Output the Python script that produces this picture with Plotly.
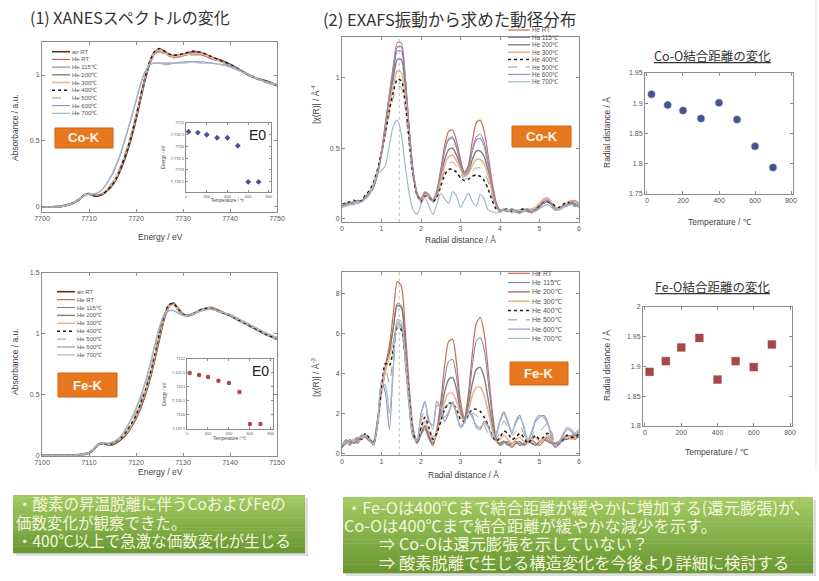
import plotly.graph_objects as go

W, H = 819, 581

# ---------------- data ----------------
series_xanes = ["air RT", "He RT", "He 115℃", "He 200℃", "He 300℃", "He 400℃", "He 500℃", "He 600℃", "He 700℃"]
series_exafs = ["He RT", "He 115℃", "He 200℃", "He 300℃", "He 400℃", "He 500℃", "He 600℃", "He 700℃"]

energy_co = [7700, 7702, 7704, 7706, 7708, 7709, 7710, 7711, 7712, 7713, 7714, 7715, 7716, 7717, 7718, 7719,
             7720, 7721, 7722, 7723, 7724, 7725, 7726, 7727, 7728, 7730, 7732, 7734, 7736, 7738, 7740, 7742,
             7744, 7746, 7748, 7750]
co_xanes_air = [0.00, 0.00, 0.005, 0.02, 0.06, 0.09, 0.10, 0.085, 0.085, 0.10, 0.13, 0.17, 0.23, 0.31, 0.41, 0.53, 0.67, 0.83, 0.98, 1.10, 1.17, 1.19, 1.18, 1.15, 1.14, 1.15, 1.17, 1.16, 1.13, 1.11, 1.08, 1.04, 1.00, 0.97, 0.95, 0.92]
co_xanes_rt = [0.00, 0.00, 0.005, 0.02, 0.06, 0.09, 0.10, 0.09, 0.09, 0.105, 0.135, 0.18, 0.24, 0.32, 0.42, 0.54, 0.68, 0.84, 0.99, 1.11, 1.18, 1.20, 1.18, 1.16, 1.15, 1.16, 1.18, 1.17, 1.14, 1.11, 1.08, 1.04, 1.00, 0.97, 0.94, 0.92]
co_xanes_115 = [0.00, 0.00, 0.005, 0.02, 0.06, 0.09, 0.10, 0.085, 0.09, 0.10, 0.13, 0.17, 0.23, 0.31, 0.41, 0.53, 0.66, 0.82, 0.97, 1.09, 1.16, 1.18, 1.17, 1.15, 1.14, 1.15, 1.16, 1.15, 1.13, 1.10, 1.07, 1.04, 1.00, 0.97, 0.94, 0.92]
co_xanes_200 = [0.00, 0.00, 0.005, 0.02, 0.06, 0.09, 0.10, 0.09, 0.09, 0.10, 0.13, 0.17, 0.23, 0.31, 0.42, 0.54, 0.68, 0.83, 0.98, 1.10, 1.17, 1.19, 1.17, 1.15, 1.14, 1.15, 1.17, 1.16, 1.13, 1.11, 1.08, 1.04, 1.00, 0.97, 0.95, 0.92]
co_xanes_300 = [0.00, 0.00, 0.005, 0.02, 0.06, 0.09, 0.10, 0.09, 0.09, 0.105, 0.14, 0.18, 0.24, 0.33, 0.43, 0.55, 0.69, 0.84, 0.99, 1.10, 1.17, 1.19, 1.17, 1.15, 1.14, 1.15, 1.16, 1.16, 1.13, 1.10, 1.07, 1.04, 1.00, 0.97, 0.94, 0.92]
co_xanes_400 = [0.00, 0.00, 0.005, 0.02, 0.06, 0.09, 0.10, 0.09, 0.09, 0.10, 0.13, 0.17, 0.23, 0.32, 0.42, 0.54, 0.68, 0.84, 0.99, 1.11, 1.18, 1.20, 1.18, 1.16, 1.15, 1.16, 1.18, 1.17, 1.14, 1.11, 1.08, 1.04, 1.00, 0.97, 0.95, 0.92]
co_xanes_500 = [0.00, 0.00, 0.005, 0.02, 0.06, 0.09, 0.10, 0.09, 0.09, 0.11, 0.14, 0.19, 0.25, 0.34, 0.44, 0.56, 0.70, 0.85, 0.99, 1.10, 1.16, 1.17, 1.16, 1.14, 1.13, 1.14, 1.15, 1.15, 1.12, 1.10, 1.07, 1.04, 1.00, 0.97, 0.94, 0.92]
co_xanes_600 = [0.00, 0.00, 0.005, 0.02, 0.06, 0.085, 0.10, 0.10, 0.11, 0.14, 0.19, 0.25, 0.33, 0.43, 0.55, 0.67, 0.80, 0.93, 1.03, 1.08, 1.09, 1.09, 1.09, 1.09, 1.09, 1.10, 1.10, 1.10, 1.09, 1.08, 1.07, 1.04, 1.00, 0.97, 0.95, 0.93]
co_xanes_700 = [0.00, 0.00, 0.005, 0.02, 0.06, 0.085, 0.10, 0.10, 0.11, 0.14, 0.19, 0.26, 0.34, 0.44, 0.56, 0.68, 0.81, 0.94, 1.03, 1.08, 1.09, 1.09, 1.08, 1.08, 1.09, 1.09, 1.10, 1.09, 1.09, 1.08, 1.06, 1.03, 1.00, 0.97, 0.94, 0.93]

energy_fe = [7100, 7102, 7104, 7106, 7108, 7110, 7111, 7112, 7113, 7114, 7115, 7116, 7117, 7118, 7119, 7120,
             7121, 7122, 7123, 7124, 7125, 7126, 7127, 7128, 7129, 7130, 7131, 7132, 7134, 7136, 7138, 7140,
             7142, 7144, 7146, 7148, 7150]
fe_xanes_air = [0.0, 0.0, 0.0, 0.0, 0.005, 0.02, 0.05, 0.09, 0.10, 0.09, 0.09, 0.11, 0.14, 0.18, 0.24, 0.31, 0.40, 0.51, 0.64, 0.80, 0.97, 1.13, 1.23, 1.25, 1.20, 1.16, 1.15, 1.16, 1.20, 1.21, 1.18, 1.15, 1.11, 1.07, 1.03, 0.99, 0.96]
fe_xanes_rt = [0.0, 0.0, 0.0, 0.0, 0.005, 0.02, 0.05, 0.09, 0.10, 0.09, 0.09, 0.11, 0.14, 0.18, 0.23, 0.30, 0.39, 0.50, 0.63, 0.79, 0.96, 1.12, 1.22, 1.25, 1.21, 1.17, 1.15, 1.16, 1.20, 1.22, 1.19, 1.15, 1.11, 1.07, 1.03, 0.99, 0.95]
fe_xanes_115 = [0.0, 0.0, 0.0, 0.0, 0.005, 0.02, 0.05, 0.09, 0.10, 0.09, 0.09, 0.11, 0.14, 0.18, 0.24, 0.31, 0.40, 0.51, 0.64, 0.80, 0.97, 1.13, 1.23, 1.25, 1.20, 1.16, 1.15, 1.16, 1.20, 1.21, 1.18, 1.15, 1.11, 1.07, 1.03, 0.99, 0.96]
fe_xanes_200 = [0.0, 0.0, 0.0, 0.0, 0.005, 0.02, 0.05, 0.09, 0.10, 0.09, 0.09, 0.11, 0.14, 0.19, 0.25, 0.32, 0.41, 0.52, 0.65, 0.81, 0.98, 1.14, 1.23, 1.25, 1.20, 1.16, 1.15, 1.16, 1.20, 1.21, 1.18, 1.15, 1.11, 1.07, 1.03, 0.99, 0.96]
fe_xanes_300 = [0.0, 0.0, 0.0, 0.0, 0.005, 0.02, 0.05, 0.09, 0.10, 0.09, 0.10, 0.12, 0.15, 0.19, 0.25, 0.32, 0.42, 0.53, 0.66, 0.82, 0.99, 1.14, 1.23, 1.24, 1.20, 1.16, 1.15, 1.16, 1.20, 1.21, 1.18, 1.15, 1.11, 1.07, 1.03, 0.99, 0.96]
fe_xanes_400 = [0.0, 0.0, 0.0, 0.0, 0.005, 0.02, 0.05, 0.09, 0.10, 0.09, 0.10, 0.12, 0.15, 0.20, 0.26, 0.33, 0.43, 0.54, 0.67, 0.83, 1.00, 1.15, 1.24, 1.25, 1.20, 1.16, 1.15, 1.16, 1.20, 1.21, 1.18, 1.15, 1.11, 1.07, 1.03, 0.99, 0.96]
fe_xanes_500 = [0.0, 0.0, 0.0, 0.0, 0.005, 0.02, 0.05, 0.09, 0.10, 0.10, 0.10, 0.12, 0.16, 0.21, 0.27, 0.35, 0.45, 0.56, 0.69, 0.85, 1.01, 1.15, 1.22, 1.23, 1.19, 1.16, 1.15, 1.16, 1.19, 1.21, 1.18, 1.15, 1.11, 1.08, 1.04, 1.00, 0.96]
fe_xanes_600 = [0.0, 0.0, 0.0, 0.0, 0.005, 0.02, 0.05, 0.09, 0.10, 0.10, 0.11, 0.13, 0.17, 0.23, 0.30, 0.38, 0.48, 0.60, 0.74, 0.90, 1.05, 1.15, 1.19, 1.19, 1.17, 1.15, 1.15, 1.16, 1.19, 1.20, 1.18, 1.16, 1.12, 1.08, 1.04, 1.00, 0.97]
fe_xanes_700 = [0.0, 0.0, 0.0, 0.0, 0.005, 0.02, 0.05, 0.09, 0.10, 0.10, 0.11, 0.13, 0.17, 0.23, 0.30, 0.39, 0.49, 0.61, 0.75, 0.91, 1.06, 1.16, 1.19, 1.19, 1.17, 1.15, 1.15, 1.16, 1.19, 1.20, 1.18, 1.16, 1.12, 1.08, 1.04, 1.00, 0.97]

radial_r = [round(i * 0.1, 1) for i in range(61)]  # 0.0 ... 6.0 Å grid

co_exafs_rt = [0.10, 0.11, 0.10, 0.12, 0.13, 0.12, 0.16, 0.18, 0.22, 0.32,
               0.48, 0.68, 0.88, 1.06, 1.22, 1.22, 1.00, 0.64, 0.34, 0.18,
               0.14, 0.19, 0.17, 0.13, 0.20, 0.35, 0.52, 0.62, 0.63, 0.55,
               0.42, 0.33, 0.38, 0.55, 0.68, 0.70, 0.62, 0.45, 0.26, 0.12,
               0.06, 0.07, 0.05, 0.06, 0.05, 0.04, 0.06, 0.05, 0.04, 0.06,
               0.09, 0.12, 0.13, 0.10, 0.06, 0.07, 0.10, 0.09, 0.11, 0.12, 0.10]
co_exafs_115 = [0.09, 0.10, 0.11, 0.11, 0.12, 0.13, 0.15, 0.19, 0.23, 0.31,
                0.46, 0.66, 0.86, 1.04, 1.19, 1.19, 0.98, 0.63, 0.33, 0.17,
                0.13, 0.18, 0.16, 0.12, 0.18, 0.32, 0.48, 0.57, 0.58, 0.51,
                0.40, 0.32, 0.36, 0.49, 0.58, 0.60, 0.54, 0.40, 0.23, 0.11,
                0.05, 0.06, 0.06, 0.05, 0.06, 0.05, 0.05, 0.06, 0.05, 0.07,
                0.10, 0.13, 0.14, 0.11, 0.07, 0.06, 0.09, 0.10, 0.12, 0.11, 0.09]
co_exafs_200 = [0.08, 0.10, 0.10, 0.12, 0.11, 0.13, 0.15, 0.18, 0.24, 0.33,
                0.47, 0.65, 0.84, 1.00, 1.13, 1.13, 0.94, 0.62, 0.33, 0.18,
                0.13, 0.17, 0.16, 0.13, 0.17, 0.29, 0.42, 0.49, 0.50, 0.45,
                0.37, 0.30, 0.33, 0.42, 0.48, 0.48, 0.44, 0.34, 0.21, 0.10,
                0.06, 0.06, 0.05, 0.07, 0.05, 0.04, 0.06, 0.07, 0.05, 0.06,
                0.08, 0.11, 0.12, 0.10, 0.08, 0.07, 0.08, 0.10, 0.11, 0.10, 0.09]
co_exafs_300 = [0.09, 0.09, 0.11, 0.12, 0.12, 0.12, 0.16, 0.19, 0.25, 0.34,
                0.47, 0.63, 0.80, 0.95, 1.05, 1.04, 0.87, 0.58, 0.31, 0.17,
                0.12, 0.17, 0.16, 0.12, 0.16, 0.27, 0.38, 0.44, 0.45, 0.41,
                0.35, 0.30, 0.32, 0.38, 0.42, 0.42, 0.39, 0.31, 0.19, 0.09,
                0.05, 0.07, 0.06, 0.05, 0.06, 0.06, 0.05, 0.06, 0.07, 0.08,
                0.11, 0.14, 0.15, 0.12, 0.08, 0.06, 0.08, 0.11, 0.13, 0.12, 0.10]
co_exafs_400 = [0.10, 0.11, 0.12, 0.13, 0.12, 0.13, 0.17, 0.20, 0.26, 0.35,
                0.47, 0.61, 0.77, 0.90, 0.99, 0.98, 0.82, 0.55, 0.30, 0.17,
                0.12, 0.16, 0.15, 0.12, 0.15, 0.23, 0.31, 0.35, 0.35, 0.33,
                0.29, 0.27, 0.28, 0.30, 0.31, 0.30, 0.27, 0.21, 0.13, 0.07,
                0.05, 0.06, 0.07, 0.05, 0.05, 0.06, 0.07, 0.06, 0.05, 0.07,
                0.09, 0.11, 0.12, 0.11, 0.09, 0.08, 0.10, 0.12, 0.10, 0.09, 0.08]
co_exafs_500 = [0.09, 0.10, 0.10, 0.11, 0.12, 0.12, 0.15, 0.18, 0.25, 0.34,
                0.45, 0.59, 0.74, 0.86, 0.94, 0.93, 0.78, 0.53, 0.29, 0.16,
                0.12, 0.16, 0.15, 0.12, 0.16, 0.25, 0.34, 0.39, 0.40, 0.37,
                0.32, 0.28, 0.30, 0.34, 0.36, 0.36, 0.33, 0.26, 0.16, 0.08,
                0.05, 0.06, 0.05, 0.06, 0.05, 0.05, 0.06, 0.05, 0.06, 0.07,
                0.10, 0.12, 0.13, 0.10, 0.07, 0.07, 0.09, 0.10, 0.11, 0.11, 0.09]
co_exafs_600 = [0.10, 0.10, 0.11, 0.12, 0.13, 0.12, 0.16, 0.19, 0.23, 0.31,
                0.46, 0.67, 0.89, 1.09, 1.25, 1.25, 1.02, 0.65, 0.34, 0.18,
                0.14, 0.18, 0.17, 0.13, 0.19, 0.33, 0.48, 0.56, 0.57, 0.50,
                0.39, 0.31, 0.35, 0.48, 0.56, 0.57, 0.51, 0.38, 0.22, 0.10,
                0.06, 0.06, 0.05, 0.06, 0.06, 0.05, 0.05, 0.06, 0.05, 0.06,
                0.08, 0.11, 0.13, 0.11, 0.07, 0.07, 0.09, 0.09, 0.12, 0.13, 0.11]
co_exafs_700 = [0.08, 0.09, 0.10, 0.10, 0.11, 0.12, 0.14, 0.17, 0.24, 0.32,
                0.34, 0.38, 0.52, 0.66, 0.70, 0.60, 0.38, 0.18, 0.06, 0.03,
                0.10, 0.15, 0.09, 0.03, 0.10, 0.18, 0.14, 0.11, 0.19, 0.16,
                0.08, 0.13, 0.18, 0.12, 0.09, 0.17, 0.14, 0.06, 0.05, 0.04,
                0.05, 0.07, 0.06, 0.04, 0.05, 0.06, 0.05, 0.07, 0.06, 0.05,
                0.07, 0.09, 0.10, 0.08, 0.06, 0.07, 0.08, 0.09, 0.10, 0.09, 0.08]

fe_exafs_rt = [0.3, 0.6, 0.4, 0.7, 0.5, 0.8, 0.9, 0.6, 0.5, 1.6,
               3.2, 4.4, 5.4, 7.0, 8.6, 8.4, 6.2, 3.4, 1.3, 0.6,
               1.0, 1.3, 0.8, 0.4, 1.2, 2.6, 4.4, 5.6, 5.7, 4.5,
               2.6, 1.8, 3.0, 5.0, 6.5, 6.8, 6.0, 4.2, 2.2, 0.8,
               0.4, 0.6, 0.5, 0.3, 0.5, 0.6, 0.4, 0.5, 0.7, 0.5,
               0.4, 0.6, 0.8, 0.6, 0.3, 0.5, 0.7, 0.9, 0.8, 0.7, 0.9]
fe_exafs_115 = [0.4, 0.7, 0.5, 0.6, 0.7, 0.8, 0.9, 0.7, 0.5, 1.5,
                3.0, 4.1, 5.0, 6.3, 7.5, 7.4, 5.6, 3.1, 1.2, 0.5,
                0.9, 1.2, 0.7, 0.4, 1.1, 2.3, 3.7, 4.6, 4.7, 3.8,
                2.3, 1.7, 2.7, 4.4, 5.6, 5.8, 5.2, 3.6, 1.9, 0.7,
                0.4, 0.5, 0.6, 0.4, 0.5, 0.5, 0.4, 0.6, 0.6, 0.4,
                0.5, 0.7, 0.7, 0.5, 0.4, 0.6, 0.6, 0.8, 0.9, 0.8, 0.8]
fe_exafs_200 = [0.3, 0.5, 0.6, 0.5, 0.6, 0.9, 0.8, 0.6, 0.6, 1.7,
                3.1, 4.2, 5.1, 6.3, 7.4, 7.3, 5.5, 3.0, 1.1, 0.5,
                1.0, 1.4, 0.9, 0.5, 1.0, 2.0, 3.1, 3.7, 3.8, 3.2,
                2.1, 1.7, 2.4, 3.5, 4.2, 4.3, 3.8, 2.7, 1.5, 0.6,
                0.5, 0.6, 0.4, 0.5, 0.6, 0.4, 0.5, 0.6, 0.5, 0.4,
                0.6, 0.7, 0.6, 0.5, 0.5, 0.6, 0.7, 0.7, 0.8, 0.9, 1.0]
fe_exafs_300 = [0.4, 0.5, 0.5, 0.7, 0.6, 0.7, 0.9, 0.8, 0.4, 1.4,
                3.0, 4.2, 4.8, 5.6, 6.4, 6.3, 4.9, 2.8, 1.1, 0.6,
                1.2, 1.6, 1.1, 0.6, 1.0, 1.8, 2.6, 3.0, 3.0, 2.6,
                1.9, 1.6, 2.1, 2.9, 3.3, 3.3, 2.9, 2.1, 1.2, 0.6,
                0.7, 0.9, 0.7, 0.5, 0.7, 0.8, 0.6, 0.5, 0.7, 0.8,
                0.6, 0.7, 0.9, 0.7, 0.4, 0.5, 0.8, 0.9, 0.7, 0.8, 1.0]
fe_exafs_400 = [0.3, 0.6, 0.5, 0.6, 0.8, 0.7, 1.0, 0.7, 0.5, 1.5,
                3.3, 4.5, 4.4, 5.2, 6.3, 6.2, 4.8, 2.7, 1.0, 0.6,
                1.3, 1.8, 1.3, 0.7, 1.0, 1.6, 2.2, 2.5, 2.5, 2.2,
                1.7, 1.6, 1.9, 2.2, 2.2, 2.1, 1.8, 1.4, 0.9, 0.6,
                0.8, 1.1, 1.0, 0.7, 0.8, 1.0, 0.8, 0.5, 0.7, 0.9,
                0.7, 0.8, 1.0, 0.8, 0.4, 0.5, 0.7, 0.9, 0.8, 0.8, 1.0]
fe_exafs_500 = [0.4, 0.5, 0.6, 0.7, 0.6, 0.8, 0.9, 0.6, 0.4, 1.5,
                3.4, 4.3, 3.5, 5.0, 6.6, 6.4, 4.7, 2.5, 0.9, 0.6,
                1.6, 2.2, 1.5, 0.8, 1.2, 1.9, 2.3, 2.5, 2.6, 2.0,
                1.4, 1.5, 1.8, 2.0, 1.9, 1.7, 1.4, 1.0, 0.8, 0.7,
                1.1, 1.6, 1.3, 0.9, 1.1, 1.4, 1.0, 0.6, 0.8, 1.2,
                1.1, 1.3, 1.5, 1.1, 0.5, 0.4, 0.8, 1.0, 0.9, 1.0, 1.2]
fe_exafs_600 = [0.3, 0.5, 0.7, 0.5, 0.7, 0.9, 0.8, 0.7, 0.5, 1.6,
                3.6, 3.0, 1.2, 4.3, 6.5, 6.4, 4.6, 2.3, 0.8, 0.7,
                2.0, 2.6, 1.6, 1.4, 2.6, 2.2, 1.6, 2.0, 2.5, 1.9,
                1.3, 1.6, 2.1, 1.9, 1.3, 1.2, 1.6, 1.4, 0.8, 0.9,
                1.6, 2.0, 1.5, 1.0, 1.6, 1.9, 1.3, 0.6, 1.0, 1.6,
                1.8, 1.9, 1.6, 0.9, 0.3, 0.5, 0.9, 1.2, 1.1, 0.9, 1.1]
fe_exafs_700 = [0.4, 0.6, 0.5, 0.6, 0.8, 0.8, 0.9, 0.6, 0.5, 1.4,
                3.5, 3.4, 2.0, 4.4, 6.7, 6.6, 4.8, 2.4, 0.8, 0.6,
                1.9, 2.5, 1.7, 1.2, 2.4, 2.3, 1.8, 2.1, 2.6, 2.0,
                1.3, 1.5, 2.0, 1.8, 1.4, 1.3, 1.5, 1.3, 0.9, 1.0,
                1.7, 2.1, 1.6, 1.1, 1.5, 1.8, 1.4, 0.7, 1.1, 1.7,
                1.9, 1.8, 1.5, 0.8, 0.4, 0.6, 1.0, 1.3, 1.2, 1.0, 1.2]

temperature_c = [25, 115, 200, 300, 400, 500, 600, 700]
co_o_distance = [1.915, 1.897, 1.888, 1.875, 1.901, 1.873, 1.829, 1.794]
fe_o_distance = [1.891, 1.909, 1.932, 1.948, 1.878, 1.909, 1.899, 1.937]
co_e0 = [7720.63, 7720.59, 7720.50, 7720.37, 7720.37, 7720.03, 7718.49, 7718.49]
fe_e0 = [7121.49, 7121.42, 7121.35, 7121.21, 7121.13, 7120.81, 7119.65, 7119.65]
exafs_peak_r = 1.45

title_xanes = "(1) XANESスペクトルの変化"
title_exafs = "(2) EXAFS振動から求めた動径分布"
title_co_o = "Co-O結合距離の変化"
title_fe_o = "Fe-O結合距離の変化"
summary_left = ["・酸素の昇温脱離に伴うCoおよびFeの", "価数変化が観察できた。", "・400℃以上で急激な価数変化が生じる"]
summary_right = ["・Fe-Oは400℃まで結合距離が緩やかに増加する(還元膨張)が、",
                 "Co-Oは400℃まで結合距離が緩やかな減少を示す。",
                 "⇒ Co-Oは還元膨張を示していない？",
                 "⇒ 酸素脱離で生じる構造変化を今後より詳細に検討する"]

co_xanes = dict(zip(series_xanes, [co_xanes_air, co_xanes_rt, co_xanes_115, co_xanes_200, co_xanes_300,
                                   co_xanes_400, co_xanes_500, co_xanes_600, co_xanes_700]))
fe_xanes = dict(zip(series_xanes, [fe_xanes_air, fe_xanes_rt, fe_xanes_115, fe_xanes_200, fe_xanes_300,
                                   fe_xanes_400, fe_xanes_500, fe_xanes_600, fe_xanes_700]))
co_exafs = dict(zip(series_exafs, [co_exafs_rt, co_exafs_115, co_exafs_200, co_exafs_300, co_exafs_400,
                                   co_exafs_500, co_exafs_600, co_exafs_700]))
fe_exafs = dict(zip(series_exafs, [fe_exafs_rt, fe_exafs_115, fe_exafs_200, fe_exafs_300, fe_exafs_400,
                                   fe_exafs_500, fe_exafs_600, fe_exafs_700]))

# ---------------- styles ----------------
line_styles = {
    "air RT": ("#5b2e26", 2.2, "solid"),
    "He RT": ("#cc6a55", 1.2, "solid"),
    "He 115℃": ("#6f7fa3", 1.0, "solid"),
    "He 200℃": ("#857b7b", 1.4, "solid"),
    "He 300℃": ("#ebb58e", 1.6, "solid"),
    "He 400℃": ("#1c1c1c", 1.5, "dot"),
    "He 500℃": ("#a99585", 1.0, "dash"),
    "He 600℃": ("#9a8bb8", 1.1, "solid"),
    "He 700℃": ("#9fbcc6", 1.2, "solid"),
}
JP = "Noto Sans CJK JP"
LAT = "Liberation Sans"


def px(x):
    return x / W


def py(y):
    return 1 - y / H


def xdom(a, b):
    return [px(a), px(b)]


def ydom(top, bottom):
    return [py(bottom), py(top)]


def frame_axis(domain, rng, dtick, anchor, fsize=7, ticklen=3):
    return dict(domain=domain, range=rng, dtick=dtick, anchor=anchor, showgrid=False, zeroline=False,
                showline=True, mirror="allticks", linecolor="#8c8c8c", linewidth=1, ticks="inside",
                ticklen=ticklen, tickwidth=1, tickcolor="#8c8c8c", automargin=False,
                tickfont=dict(family=LAT, size=fsize, color="#555555"), fixedrange=True)


fig = go.Figure()

for name in series_xanes:
    c, w, d = line_styles[name]
    fig.add_trace(go.Scatter(x=energy_co, y=co_xanes[name], mode="lines", xaxis="x", yaxis="y",
                             line=dict(color=c, width=w, dash=d, shape="spline", smoothing=0.6), hoverinfo="skip"))
    fig.add_trace(go.Scatter(x=energy_fe, y=fe_xanes[name], mode="lines", xaxis="x4", yaxis="y4",
                             line=dict(color=c, width=w, dash=d, shape="spline", smoothing=0.6), hoverinfo="skip"))
for name in series_exafs:
    c, w, d = line_styles[name]
    fig.add_trace(go.Scatter(x=radial_r, y=co_exafs[name], mode="lines", xaxis="x2", yaxis="y2",
                             line=dict(color=c, width=w, dash=d, shape="spline", smoothing=0.7), hoverinfo="skip"))
    fig.add_trace(go.Scatter(x=radial_r, y=fe_exafs[name], mode="lines", xaxis="x5", yaxis="y5",
                             line=dict(color=c, width=w, dash=d, shape="spline", smoothing=0.7), hoverinfo="skip"))

fig.add_trace(go.Scatter(x=temperature_c, y=co_o_distance, mode="markers", xaxis="x3", yaxis="y3",
                         marker=dict(symbol="circle", size=7, color="#465390",
                                     line=dict(color="rgba(70,83,144,0.3)", width=1.5)), hoverinfo="skip"))
fig.add_trace(go.Scatter(x=temperature_c, y=fe_o_distance, mode="markers", xaxis="x6", yaxis="y6",
                         marker=dict(symbol="square", size=8, color="#a5484a",
                                     line=dict(color="rgba(165,72,74,0.3)", width=1)), hoverinfo="skip"))
fig.add_trace(go.Scatter(x=temperature_c, y=co_e0, mode="markers", xaxis="x7", yaxis="y7",
                         marker=dict(symbol="diamond", size=4.5, color="#4a5590"), hoverinfo="skip"))
fig.add_trace(go.Scatter(x=temperature_c, y=fe_e0, mode="markers", xaxis="x8", yaxis="y8",
                         marker=dict(symbol="circle", size=4.5, color="#b0464a"), hoverinfo="skip"))

fig.update_layout(
    template="none",
    width=W, height=H, margin=dict(l=0, r=0, t=0, b=0, pad=0, autoexpand=False), showlegend=False,
    paper_bgcolor="white", plot_bgcolor="white",
    xaxis=frame_axis(xdom(42, 277), [7700, 7750], 10, "y"),
    yaxis=frame_axis(ydom(42, 212), [-0.038, 1.25], 0.5, "x"),
    xaxis2=frame_axis(xdom(342, 579), [0, 6], 1, "y2"),
    yaxis2=frame_axis(ydom(37, 222), [-0.024, 1.29], 0.5, "x2"),
    xaxis3=frame_axis(xdom(645, 793), [-11, 811], 200, "y3"),
    yaxis3=frame_axis(ydom(73, 194), [1.75, 1.95], 0.05, "x3"),
    xaxis4=frame_axis(xdom(42, 277), [7100, 7150], 10, "y4"),
    yaxis4=frame_axis(ydom(273, 456), [-0.005, 1.5], 0.5, "x4"),
    xaxis5=frame_axis(xdom(342, 579), [0, 6], 1, "y5"),
    yaxis5=frame_axis(ydom(272, 455), [-0.085, 9.08], 2, "x5"),
    xaxis6=frame_axis(xdom(643, 792), [-11, 811], 200, "y6"),
    yaxis6=frame_axis(ydom(307, 426), [1.8, 2.0], 0.05, "x6"),
    xaxis7=frame_axis(xdom(186, 271), [0, 820], 200, "y7", fsize=4, ticklen=2),
    yaxis7=frame_axis(ydom(123, 192), [7718.06, 7721.0], 0.5, "x7", fsize=4, ticklen=2),
    xaxis8=frame_axis(xdom(187, 273), [0, 820], 200, "y8", fsize=4, ticklen=2),
    yaxis8=frame_axis(ydom(359, 429), [7119.47, 7122.0], 0.5, "x8", fsize=4, ticklen=2),
)

shapes = []
annos = []


def text(x, y, s, size, color="#444444", family=LAT, xanchor="center", angle=0):
    annos.append(dict(xref="paper", yref="paper", x=px(x), y=py(y), text=s, showarrow=False,
                      xanchor=xanchor, yanchor="middle", textangle=angle, borderpad=0,
                      font=dict(size=size, color=color, family=family)))


for xa, ya in (("x2", "y2"), ("x5", "y5")):
    shapes.append(dict(type="line", xref=xa, yref=ya + " domain", x0=exafs_peak_r, x1=exafs_peak_r, y0=0, y1=1,
                       line=dict(color="#b0b0b0", width=0.8, dash="dot")))


def legend(x0, x1, xt, y_first, dy, names, size=6):
    for i, n in enumerate(names):
        y = y_first + i * dy
        c, w, d = line_styles[n]
        shapes.append(dict(type="line", xref="paper", yref="paper", x0=px(x0), x1=px(x1), y0=py(y), y1=py(y),
                           line=dict(color=c, width=min(w, 1.6), dash=d)))
        text(xt, y, n, size, color="#555555", xanchor="left")


legend(52, 70, 71, 51.7, 7.7, series_xanes)
legend(57, 75, 76, 291.7, 7.9, series_xanes)
legend(508, 530, 531, 30, 7.4, series_exafs, size=6.3)
legend(508, 530, 531, 273.3, 9.3, series_exafs, size=7)


def badge(x0, y0, x1, y1, label):
    shapes.append(dict(type="rect", xref="paper", yref="paper", x0=px(x0), x1=px(x1), y0=py(y1), y1=py(y0),
                       fillcolor="#e8781f", line=dict(color="#cf6512", width=1)))
    text((x0 + x1) / 2, (y0 + y1) / 2, "<b>" + label + "</b>", 13, color="#fff6ea")


badge(55, 128, 113, 148, "Co-K")
badge(512, 126, 571, 147, "Co-K")
badge(58, 373, 117, 397, "Fe-K")
badge(510, 362, 568, 385, "Fe-K")


def green_box(x0, y0, x1, y1):
    shapes.append(dict(type="rect", xref="paper", yref="paper", x0=px(x0 + 3), x1=px(x1 + 3),
                       y0=py(y1 + 3), y1=py(y0 + 3), fillcolor="rgba(0,0,0,0.13)", line=dict(width=0)))
    n = 18
    top = (163, 202, 98)
    bot = (106, 152, 50)
    h = (y1 - y0) / n
    for i in range(n):
        t = i / (n - 1)
        col = tuple(int(top[k] + (bot[k] - top[k]) * t) for k in range(3))
        shapes.append(dict(type="rect", xref="paper", yref="paper", x0=px(x0), x1=px(x1),
                           y0=py(y0 + (i + 1) * h + 0.3), y1=py(y0 + i * h),
                           fillcolor="rgb(%d,%d,%d)" % col, line=dict(width=0)))


green_box(13, 495, 305, 553)
green_box(343, 497, 813, 573)

for (x, y), s in zip([(16, 503), (15, 522), (16, 540)], summary_left):
    text(x, y, s, 15.5, color="#f3f7dc", family=JP, xanchor="left")
for (x, y), s in zip([(345, 507), (343, 525), (378, 543), (378, 562)], summary_right):
    text(x, y, s, 16.3, color="#f3f7dc", family=JP, xanchor="left")

text(29, 17, title_xanes, 16, color="#333333", family=JP, xanchor="left")
text(322, 19, title_exafs, 16.5, color="#333333", family=JP, xanchor="left")
text(712, 55, "<u>" + title_co_o + "</u>", 12.5, color="#333333", family=JP)
text(712, 287, "<u>" + title_fe_o + "</u>", 12.5, color="#333333", family=JP)

text(15, 128, "Absorbance / a.u.", 8.5, angle=-90)
text(15, 362, "Absorbance / a.u.", 8.5, angle=-90)
text(160, 237, "Energy / eV", 8.5)
text(160, 472, "Energy / eV", 8.5)
text(315, 105, "|χ(R)| / Å<sup>-4</sup>", 8.5, angle=-90)
text(315, 378, "|χ(R)| / Å<sup>-3</sup>", 8.5, angle=-90)
text(460, 240, "Radial distance / Å", 8.5)
text(463, 475, "Radial distance / Å", 8.5)
text(607, 133, "Radial distance / Å", 8.5, angle=-90)
text(607, 366, "Radial distance / Å", 8.5, angle=-90)
text(720, 222, "Temperature / ℃", 8.5)
text(717, 452, "Temperature / ℃", 8.5)
text(228, 201, "Temperature / ℃", 4.5)
text(230, 438, "Temperature / ℃", 4.5)
text(163, 157, "Energy / eV", 4.5, angle=-90)
text(164, 394, "Energy / eV", 4.5, angle=-90)
text(257, 135, "E0", 14, color="#222222")
text(260, 371, "E0", 14, color="#222222")

shapes.append(dict(type="line", xref="paper", yref="paper", x0=px(816), x1=px(816), y0=py(0), y1=py(470),
                   line=dict(color="#e2e2e2", width=1)))

fig.update_layout(shapes=shapes, annotations=annos)
fig.write_html("out.html", config={"displayModeBar": False, "staticPlot": True},
               post_script="document.body.style.margin='0';document.body.style.overflow='hidden';")
